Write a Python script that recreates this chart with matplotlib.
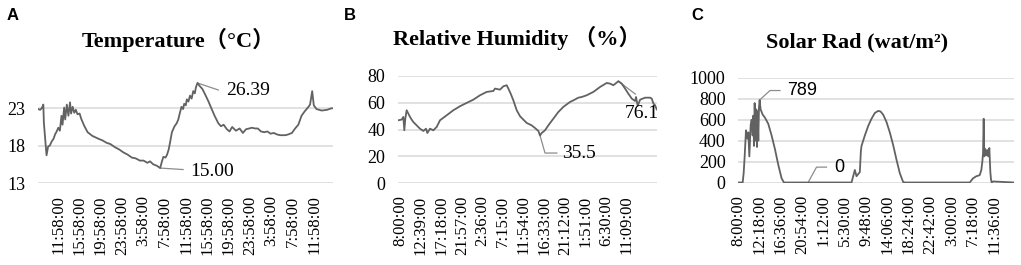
import matplotlib
matplotlib.use("Agg")
import matplotlib.pyplot as plt

# ---------------- data ----------------
temp_hours = [0.0, 0.4, 0.7, 1.0, 1.1, 1.3, 1.6, 1.9, 2.2, 2.6,
              2.9, 3.2, 3.5, 3.8, 4.1, 4.4, 4.6, 4.9, 5.1, 5.4,
              5.7, 6.0, 6.2, 6.5, 6.8, 7.1, 7.4, 7.8, 8.1, 8.7,
              9.3, 10.2, 10.8, 11.4, 12.1, 12.8, 13.6, 14.4, 15.2, 16.0,
              16.8, 17.6, 18.3, 19.1, 19.8, 20.5, 21.0, 21.6, 22.3, 22.9,
              23.2, 23.5, 23.9, 24.2, 24.5, 24.8, 25.1, 25.6, 26.0, 26.3,
              26.6, 26.9, 27.2, 27.4, 27.7, 27.9, 28.2, 28.5, 28.8, 29.1,
              29.4, 29.6, 29.9, 30.3, 30.8, 31.3, 31.9, 32.5, 33.1, 33.8,
              34.3, 34.8, 35.4, 35.9, 36.4, 37.1, 37.8, 38.4, 39.0, 39.6,
              40.1, 40.7, 41.2, 41.8, 42.4, 43.0, 43.6, 44.2, 44.8, 45.4,
              45.9, 46.4, 46.9, 47.6, 48.2, 48.8, 49.4, 50.0, 50.6, 51.0,
              51.4, 51.7, 52.2, 53.2, 54.2, 55.0, 55.3]
temp_values = [22.9, 22.8, 23.0, 23.5, 21.1, 19.3, 16.7, 17.9, 18.0, 18.6,
               18.9, 19.5, 19.9, 20.4, 20.0, 22.0, 20.8, 23.1, 21.5, 23.5,
               22.0, 23.8, 22.3, 23.2, 22.4, 22.8, 22.2, 22.3, 21.6, 20.6,
               19.8, 19.3, 19.1, 18.9, 18.7, 18.4, 18.2, 17.8, 17.5, 17.1,
               16.8, 16.4, 16.3, 16.0, 16.0, 15.7, 15.9, 15.5, 15.3, 15.0,
               15.8, 16.5, 16.4, 16.8, 17.5, 18.6, 19.8, 20.6, 21.0, 21.5,
               22.4, 23.2, 22.9, 23.6, 23.4, 24.2, 23.9, 24.7, 24.3, 25.3,
               25.0, 25.8, 26.39, 26.0, 25.6, 24.9, 24.0, 23.0, 22.0, 21.0,
               20.6, 20.8, 20.2, 19.9, 20.5, 20.0, 20.3, 19.7, 20.2, 20.3,
               20.4, 20.3, 20.3, 19.9, 19.8, 19.9, 19.6, 19.7, 19.5, 19.4,
               19.4, 19.4, 19.5, 19.7, 20.3, 20.8, 22.0, 22.6, 23.1, 23.5,
               25.3, 23.4, 22.9, 22.7, 22.8, 23.0, 23.0]
temp_tick_pos = [3.8, 7.8, 11.8, 15.8, 19.8, 23.8, 27.8, 31.8, 35.8, 39.8, 43.8, 47.8, 51.8]
temp_tick_labels = ["11:58:00", "15:58:00", "19:58:00", "23:58:00", "3:58:00", "7:58:00",
                    "11:58:00", "15:58:00", "19:58:00", "23:58:00", "3:58:00", "7:58:00",
                    "11:58:00"]
temp_yticks = [13, 18, 23]

rh_hours = [-0.38, 0.38, 0.75, 0.98, 1.20, 1.50, 1.88, 2.26, 2.63, 3.01,
            3.76, 4.51, 5.27, 5.87, 6.17, 6.77, 7.52, 8.28, 9.03, 10.53,
            12.04, 13.54, 15.05, 16.55, 18.06, 19.56, 21.07, 21.44, 22.57, 23.33,
            24.08, 24.45, 24.98, 25.58, 26.34, 27.09, 27.84, 28.59, 29.72, 30.47,
            31.23, 31.60, 31.98, 32.73, 33.48, 34.61, 35.74, 36.87, 38.37, 39.13,
            40.26, 41.01, 42.14, 43.64, 45.15, 46.65, 47.40, 48.16, 49.29, 50.04,
            50.79, 51.54, 52.30, 53.05, 53.27, 53.65, 54.18, 55.30, 56.43, 56.81,
            57.19, 57.56, 57.94]
rh_values = [46.9, 47.4, 49.4, 39.4, 48.1, 54.4, 51.9, 49.4, 47.4, 45.6,
             43.1, 40.6, 38.9, 40.6, 37.4, 40.6, 39.4, 41.9, 46.9, 50.6,
             54.4, 57.4, 59.9, 62.3, 65.6, 68.1, 68.8, 70.6, 69.8, 72.3,
             73.1, 70.6, 66.8, 61.8, 54.4, 49.9, 47.4, 44.9, 43.1, 41.1,
             38.9, 35.5, 37.4, 39.4, 43.1, 48.1, 53.1, 56.9, 60.6, 61.8,
             63.8, 64.3, 65.6, 68.1, 71.8, 74.8, 74.3, 73.1, 76.1, 74.3,
             70.6, 66.8, 63.1, 61.3, 64.3, 57.6, 62.3, 63.8, 63.8, 63.1,
             59.4, 58.1, 55.0]
rh_tick_pos = [0.0, 4.65, 9.3, 13.95, 18.6, 23.25, 27.9, 32.55, 37.2, 41.85, 46.5, 51.15]
rh_tick_labels = ["8:00:00", "12:39:00", "17:18:00", "21:57:00", "2:36:00", "7:15:00",
                  "11:54:00", "16:33:00", "21:12:00", "1:51:00", "6:30:00", "11:09:00"]
rh_yticks = [0, 20, 40, 60, 80]

sol_hours = [0.0, 0.94, 1.14, 1.34, 1.61, 1.88, 2.08, 2.28, 2.55, 2.75,
             2.95, 3.08, 3.22, 3.35, 3.55, 3.68, 3.82, 3.95, 4.09, 4.22,
             4.35, 4.55, 4.96, 5.43, 6.10, 6.76, 7.43, 8.10, 8.77, 9.24,
             22.84, 23.17, 23.51, 23.84, 24.18, 24.51, 24.72, 24.85, 25.52, 26.19,
             26.86, 27.53, 28.20, 28.67, 29.20, 29.87, 30.54, 31.21, 31.88, 32.55,
             33.22, 33.56, 46.62, 47.29, 47.96, 48.63, 48.96, 49.16, 49.30, 49.43,
             49.56, 49.77, 49.97, 50.17, 50.37, 50.57, 50.77, 50.90, 51.04, 51.31,
             55.53]
sol_values = [0, 0, 90, 250, 500, 420, 480, 250, 550, 600,
              450, 640, 350, 760, 400, 700, 340, 680, 400, 720,
              789, 700, 650, 620, 560, 450, 320, 170, 40, 0,
              0, 60, 120, 60, 80, 100, 300, 350, 450, 540,
              610, 665, 685, 680, 650, 580, 480, 360, 220, 90,
              5, 0, 0, 40, 60, 70, 120, 200, 280, 610,
              250, 320, 260, 310, 250, 330, 100, 30, 0, 10,
              0]
sol_tick_pos = [0.0, 4.3, 8.6, 12.9, 17.2, 21.5, 25.8, 30.1, 34.4, 38.7, 43.0, 47.3, 51.6]
sol_tick_labels = ["8:00:00", "12:18:00", "16:36:00", "20:54:00", "1:12:00", "5:30:00",
                   "9:48:00", "14:06:00", "18:24:00", "22:42:00", "3:00:00", "7:18:00",
                   "11:36:00"]
sol_yticks = [0, 200, 400, 600, 800, 1000]

# ---------------- style ----------------
LINE = "#626262"
GRID = "#d9d9d9"
LEAD = "#8c8c8c"
SERIF = ["Liberation Serif", "Noto Sans CJK SC", "DejaVu Serif"]
SANS = ["Liberation Sans", "DejaVu Sans"]

W, H = 1021, 265
fig = plt.figure(figsize=(W / 100, H / 100), dpi=100)


def px_axes(left, right, top, bottom):
    return fig.add_axes([left / W, 1 - bottom / H, (right - left) / W, (bottom - top) / H])


def style(ax, xlim, ylim, yticks, tpos, tlabels):
    ax.set_xlim(*xlim)
    ax.set_ylim(*ylim)
    for s in ax.spines.values():
        s.set_visible(False)
    ax.set_yticks(yticks)
    ax.set_yticklabels([str(v) for v in yticks], family=SERIF, fontsize=13)
    ax.set_xticks(tpos)
    ax.set_xticklabels(tlabels, rotation=90, family=SERIF, fontsize=12)
    ax.tick_params(axis="both", length=0)
    ax.tick_params(axis="y", pad=9)
    ax.tick_params(axis="x", pad=9)
    for v in yticks:
        ax.axhline(v, color=GRID, lw=1.1, zorder=0)


# Panel A
axA = px_axes(38, 333, 183 - 14.5 * 7.47, 183)
style(axA, (0, 55.3), (13, 27.5), temp_yticks, temp_tick_pos, temp_tick_labels)
axA.plot(temp_hours, temp_values, color=LINE, lw=1.3, zorder=3)
axA.plot([29.9, 33.8], [26.39, 25.45], color=LEAD, lw=0.9, zorder=2)
axA.text(35.3, 25.4, "26.39", family=SERIF, fontsize=14, va="center", ha="left")
axA.plot([22.9, 27.2], [15.0, 14.8], color=LEAD, lw=0.9, zorder=2)
axA.text(28.5, 14.55, "15.00", family=SERIF, fontsize=14, va="center", ha="left")

# Panel B
axB = px_axes(398, 657, 76, 183)
style(axB, (-0.45, 58.0), (0, 80), rh_yticks, rh_tick_pos, rh_tick_labels)
axB.plot(rh_hours, rh_values, color=LINE, lw=1.3, zorder=3)
axB.plot([31.6, 32.73, 35.4], [35.5, 22.4, 22.4], color=LEAD, lw=0.9, zorder=2)
axB.text(36.6, 22.0, "35.5", family=SERIF, fontsize=14, va="center", ha="left")
axB.plot([49.29, 53.1], [76.1, 66.5], color=LEAD, lw=0.9, zorder=2)
axB.text(50.8, 51.9, "76.1", family=SERIF, fontsize=14, va="center", ha="left")

# Panel C
axC = px_axes(738, 1014, 78, 182.5)
style(axC, (0, 55.53), (0, 1000), sol_yticks, sol_tick_pos, sol_tick_labels)
axC.plot(sol_hours, sol_values, color=LINE, lw=1.3, zorder=3)
axC.plot([4.35, 6.43, 8.44], [789, 880, 880], color=LEAD, lw=0.9, zorder=2)
axC.text(9.9, 880, "789", family=SANS, fontsize=13, va="center", ha="left")
axC.plot([14.1, 15.8, 17.8], [0, 147, 147], color=LEAD, lw=0.9, zorder=2)
axC.text(19.3, 147, "0", family=SANS, fontsize=13, va="center", ha="left")

# Titles
fig.text(178 / W, 1 - 40 / H, "Temperature（°C）", family=SERIF, fontsize=16,
         fontweight="bold", ha="center", va="center")
fig.text(517 / W, 1 - 38 / H, "Relative Humidity （%）", family=SERIF, fontsize=16,
         fontweight="bold", ha="center", va="center")
fig.text(857 / W, 1 - 42 / H, "Solar Rad (wat/m²)", family=SERIF, fontsize=16,
         fontweight="bold", ha="center", va="center")

# Panel letters
for x, letter in [(7, "A"), (344, "B"), (691, "C")]:
    fig.text(x / W, 1 - 15 / H, letter, family=SANS, fontsize=12,
             fontweight="bold", ha="left", va="center")

fig.savefig("out.png", dpi=100)
